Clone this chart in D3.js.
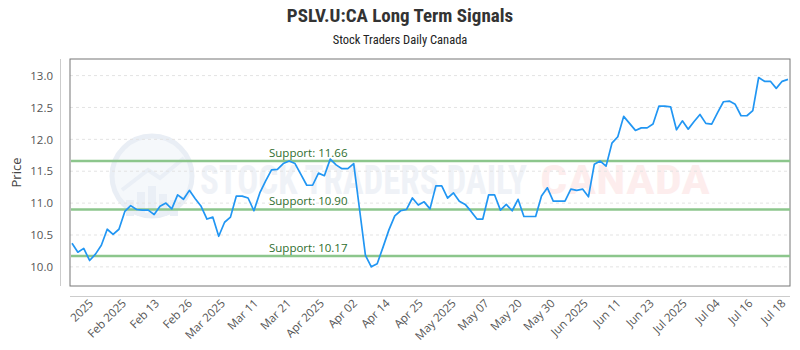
<!DOCTYPE html>
<html><head><meta charset="utf-8">
<script src="https://cdn.jsdelivr.net/npm/d3@7"></script>
<style>body{margin:0;background:#fff}svg{display:block}</style>
</head><body><div id="chart"></div>
<script>
const title = "PSLV.U:CA Long Term Signals";
const subtitle = "Stock Traders Daily Canada";
const prices = [10.37,10.23,10.29,10.10,10.20,10.34,10.59,10.51,10.59,10.87,
10.96,10.90,10.89,10.89,10.82,10.95,11.00,10.91,11.13,11.06,
11.20,11.07,10.95,10.75,10.78,10.48,10.70,10.78,11.11,11.11,
11.08,10.88,11.16,11.35,11.52,11.53,11.62,11.66,11.62,11.45,
11.28,11.28,11.47,11.43,11.69,11.60,11.54,11.54,11.62,10.90,
10.18,10.00,10.05,10.31,10.58,10.80,10.88,10.90,11.08,10.97,
11.02,10.91,11.27,11.27,11.08,11.16,11.03,10.98,10.87,10.75,
10.75,11.13,11.13,10.89,10.98,10.88,11.06,10.79,10.79,10.79,
11.11,11.24,11.03,11.03,11.03,11.22,11.20,11.22,11.10,11.61,
11.66,11.58,11.94,12.04,12.36,12.25,12.14,12.18,12.18,12.24,
12.52,12.52,12.51,12.15,12.29,12.16,12.28,12.39,12.25,12.24,
12.42,12.59,12.60,12.55,12.37,12.37,12.45,12.97,12.91,12.91,
12.80,12.91,12.94];
const tickLabels = ["2025","Feb 2025","Feb 13","Feb 26","Mar 2025","Mar 11","Mar 21","Apr 2025","Apr 02","Apr 14","Apr 25","May 2025","May 07","May 20","May 30","Jun 2025","Jun 11","Jun 23","Jul 2025","Jul 04","Jul 16","Jul 18"];
const firstTickIndex = 4;
const supports = [11.66, 10.90, 10.17];
const yTicks = [10.0,10.5,11.0,11.5,12.0,12.5,13.0];
const yDomain = [9.7, 13.26];

const W = 800, H = 350;
const plot = {left:70, right:790, top:59, bottom:286};
const svg = d3.select("#chart").append("svg").attr("width",W).attr("height",H);
svg.append("rect").attr("width",W).attr("height",H).attr("fill","#fff");

const x = d3.scaleLinear().domain([0, prices.length-1]).range([72, 788]);
const y = d3.scaleLinear().domain(yDomain).range([plot.bottom, plot.top]);
const xt = d3.scalePoint().domain(tickLabels).range([x(firstTickIndex), x(prices.length-1)]);

// titles
const tfont = "'Roboto Condensed','Liberation Sans Narrow','DejaVu Sans Condensed',Roboto,sans-serif";
svg.append("text").attr("x",400).attr("y",22).attr("text-anchor","middle")
  .attr("font-family",tfont).attr("font-weight","bold").attr("font-size",19).attr("fill","#333").text(title);
svg.append("text").attr("x",400).attr("y",44).attr("text-anchor","middle")
  .attr("font-family",tfont).attr("font-size",12.5).attr("fill","#222").text(subtitle);

// watermark
const wm = svg.append("g");
wm.append("circle").attr("cx",152).attr("cy",176).attr("r",40).attr("fill","#f5f8fb").attr("stroke","#e9eef5").attr("stroke-width",5);
[[130,200],[141,192],[152,186],[163,194],[174,200]].forEach(d=>{
  wm.append("rect").attr("x",d[0]-4).attr("y",d[1]).attr("width",8).attr("height",216-d[1]).attr("fill","#eaeff6");
});
wm.append("path").attr("d","M122,190 L148,170 L160,178 L184,158").attr("fill","none").attr("stroke","#eaeff6").attr("stroke-width",4);
wm.append("text").attr("x",200).attr("y",194).attr("font-family",tfont).attr("font-weight","bold")
  .attr("font-size",40).attr("fill","#eff2f7").attr("textLength",327).attr("lengthAdjust","spacingAndGlyphs").text("STOCK TRADERS DAILY");
wm.append("text").attr("x",540).attr("y",194).attr("font-family",tfont).attr("font-weight","bold")
  .attr("font-size",40).attr("fill","#fdeded").attr("textLength",170).attr("lengthAdjust","spacingAndGlyphs").text("CANADA");

// gridlines
svg.append("g").selectAll("line").data(yTicks).join("line")
  .attr("x1",plot.left).attr("x2",plot.right).attr("y1",d=>y(d)).attr("y2",d=>y(d))
  .attr("stroke","#e3e3e3").attr("stroke-dasharray","3,3");

// plot border
svg.append("rect").attr("x",plot.left).attr("y",plot.top).attr("width",plot.right-plot.left).attr("height",plot.bottom-plot.top)
  .attr("fill","none").attr("stroke","#777").attr("stroke-width",1);

// support lines
const sg = svg.append("g");
sg.selectAll("line").data(supports).join("line")
  .attr("x1",plot.left+1).attr("x2",plot.right).attr("y1",d=>y(d)).attr("y2",d=>y(d))
  .attr("stroke","#8cc68c").attr("stroke-width",2.5);
sg.selectAll("text").data(supports).join("text")
  .attr("x",269).attr("y",d=>y(d)-4).attr("font-family","'Open Sans',sans-serif").attr("font-size",11.5)
  .attr("fill","#2e6e2e").text(d=>"Support: "+d.toFixed(2));

// price line
svg.append("path").datum(prices)
  .attr("d", d3.line().x((d,i)=>x(i)).y(d=>y(d)))
  .attr("fill","none").attr("stroke","#2196f3").attr("stroke-width",1.7).attr("stroke-linejoin","round");

// y axis
const yAxis = svg.append("g").attr("transform","translate(60,0)")
  .call(d3.axisLeft(y).tickValues(yTicks).tickFormat(d3.format(".1f")).tickSize(0).tickPadding(7));
yAxis.select(".domain").attr("stroke","#ccc").attr("d",`M0.5,${plot.top}V${plot.bottom}`);
yAxis.selectAll("text").attr("font-family","'Open Sans',sans-serif").attr("font-size",11.5).attr("fill","#555");
svg.append("text").attr("transform",`translate(21,${(plot.top+plot.bottom)/2}) rotate(-90)`).attr("text-anchor","middle")
  .attr("font-family","'Open Sans',sans-serif").attr("font-size",13).attr("fill","#444").text("Price");

// x axis
const xAxis = svg.append("g").attr("transform","translate(0,296)")
  .call(d3.axisBottom(xt).tickSize(0).tickPadding(0));
xAxis.select(".domain").attr("stroke","#ccc").attr("d",`M${plot.left},0.5H${plot.right}`);
xAxis.selectAll("text").attr("font-family","'Open Sans',sans-serif").attr("font-size",11.5).attr("fill","#555")
  .attr("text-anchor","end").attr("dy","0").attr("transform","translate(-2,8) rotate(-45)");
</script></body></html>
